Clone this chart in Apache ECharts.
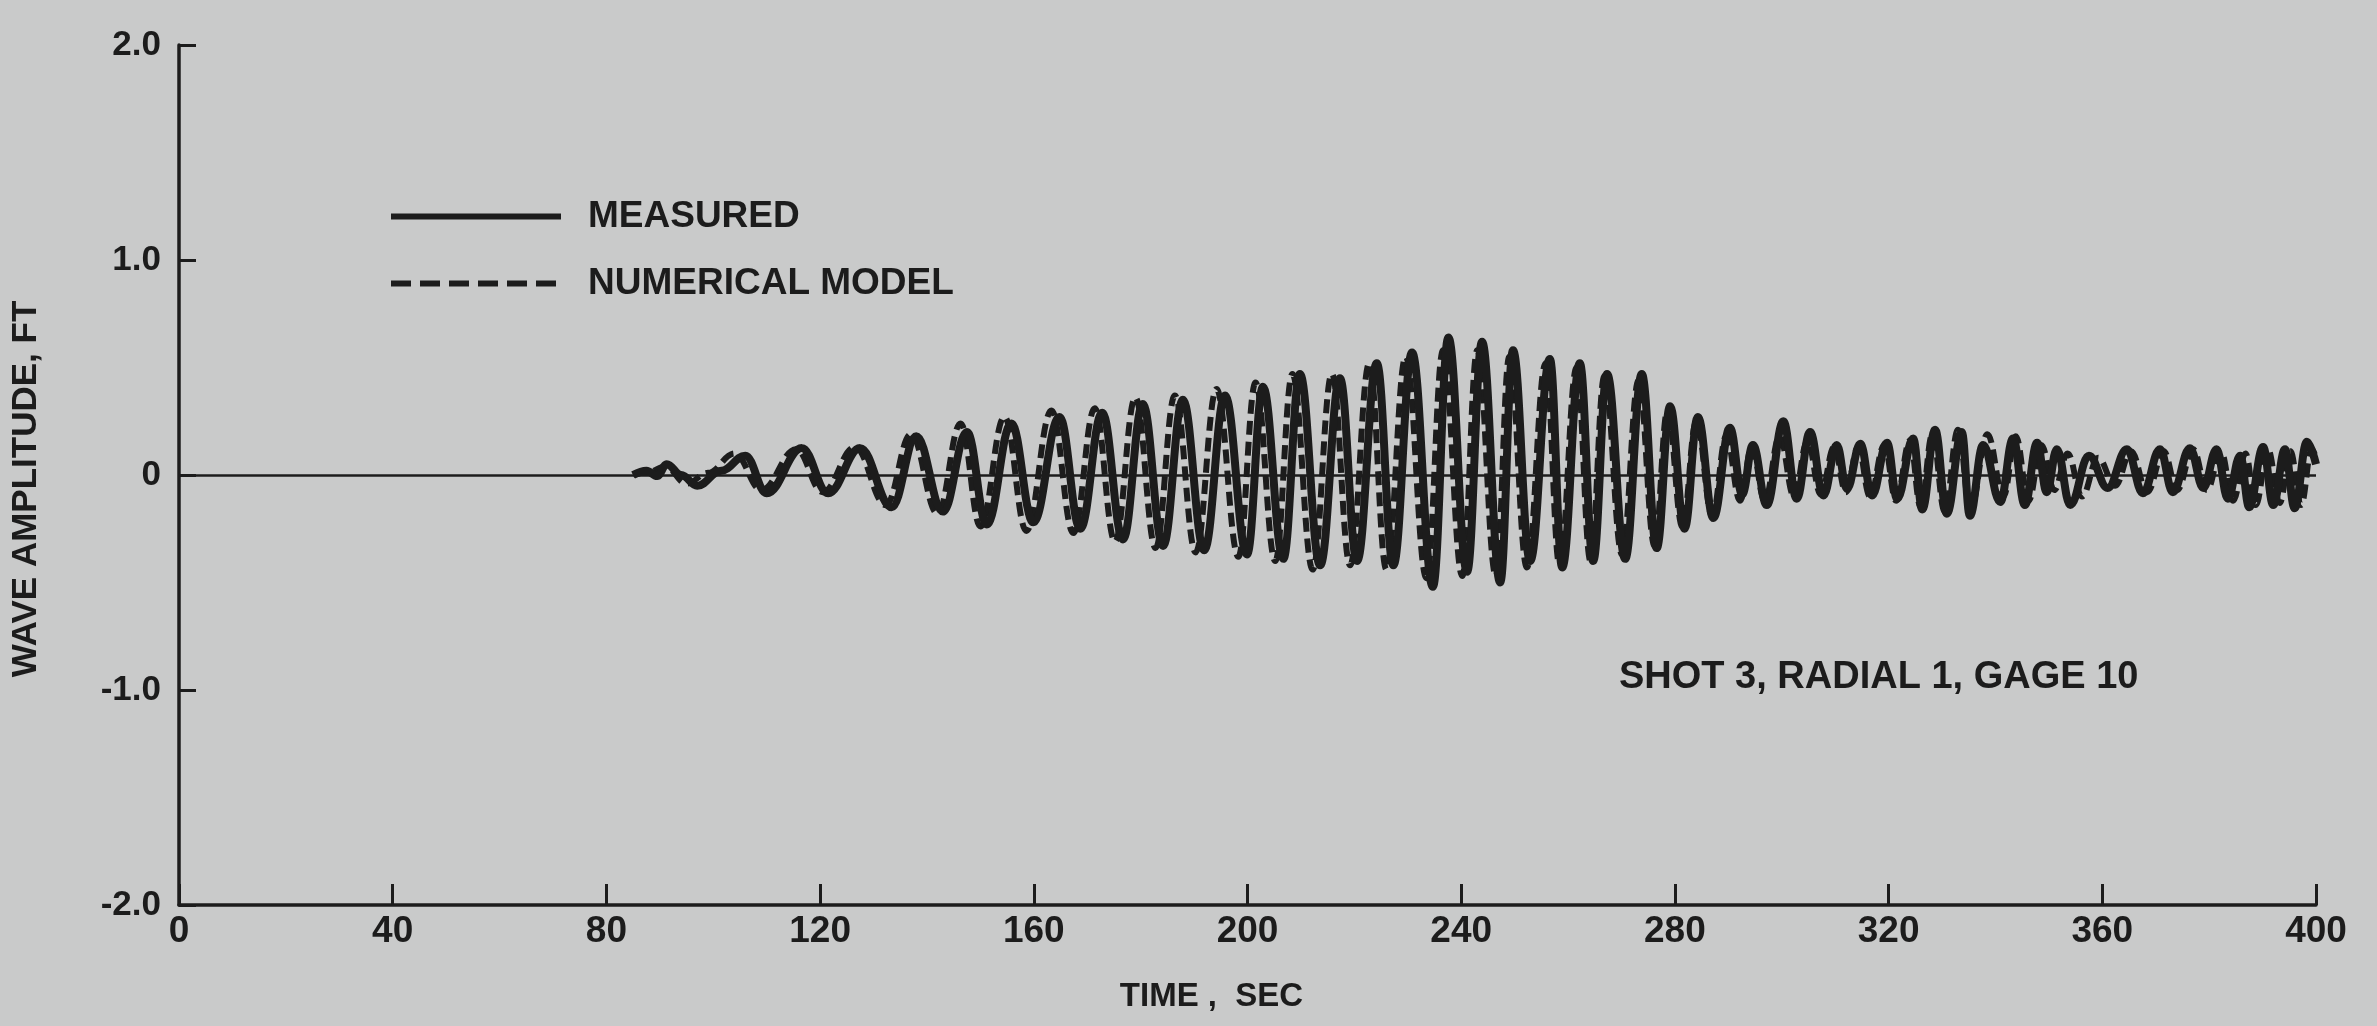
<!DOCTYPE html>
<html>
<head>
<meta charset="utf-8">
<title>Shot 3, Radial 1, Gage 10</title>
<script src="https://cdn.jsdelivr.net/npm/echarts@6/dist/echarts.min.js"></script>
<style>
  html, body { margin: 0; padding: 0; background: #c9caca; }
  #chart { width: 2377px; height: 1026px; }
</style>
</head>
<body>
<div id="chart"></div>
<script>
// wave record (peaks and troughs), time in sec, amplitude in ft
var measuredTime = [85, 87.5, 89.5, 91.3, 94, 97, 101.5, 106, 110, 116.6, 121.5, 127.5, 133.4, 138, 143, 147.5, 151.2,
  155.8, 159.9, 164.8, 168.7, 172.8, 176.7, 180.4, 184.2, 187.9, 191.9, 195.8, 199.9, 202.9, 206.7, 209.8, 213.6,
  217.3, 220.5, 224.2, 227.3, 230.8, 234.7, 237.6, 241.1, 243.9, 247.3, 249.7, 252.9, 256.6, 258.9, 262.2, 264.7,
  267.3, 270.7, 273.8, 276.6, 279.1, 281.8, 284.3, 287.2, 290.3, 292.6, 294.6, 297.2, 300.3, 302.8, 305.3, 307.8,
  310.3, 312.2, 314.7, 316.9, 319.7, 321.6, 324.6, 326.3, 328.7, 330.9, 333.7, 335.2, 337.7, 340.9, 343.3, 345.5,
  347.8, 349.6, 351.5, 354, 357.5, 361, 364.6, 367.6, 370.8, 373.2, 376.4, 378.9, 381.4, 383.5, 385.8, 387.5,
  390.1, 392, 394.2, 396, 398.3, 400];
var measuredAmp = [0, 0.02, -0.005, 0.05, 0, -0.05, 0.02, 0.09, -0.085, 0.125, -0.085, 0.125, -0.15, 0.18, -0.17, 0.2, -0.23,
  0.24, -0.22, 0.27, -0.25, 0.29, -0.3, 0.33, -0.33, 0.35, -0.35, 0.37, -0.37, 0.41, -0.39, 0.47, -0.42,
  0.45, -0.4, 0.52, -0.42, 0.57, -0.52, 0.64, -0.45, 0.62, -0.5, 0.58, -0.4, 0.54, -0.43, 0.52, -0.4,
  0.47, -0.39, 0.47, -0.34, 0.32, -0.25, 0.27, -0.2, 0.22, -0.09, 0.14, -0.14, 0.25, -0.11, 0.2, -0.095,
  0.14, -0.065, 0.145, -0.095, 0.15, -0.11, 0.17, -0.16, 0.21, -0.18, 0.2, -0.19, 0.14, -0.125, 0.17, -0.14,
  0.15, -0.08, 0.12, -0.14, 0.09, -0.06, 0.12, -0.085, 0.12, -0.08, 0.125, -0.06, 0.12, -0.11, 0.09, -0.15,
  0.13, -0.14, 0.12, -0.155, 0.155, 0.05];

var modelTime = [85, 88, 91, 95, 99, 104, 109, 115.5, 120.5, 126.5, 132.3, 137, 142, 146.3, 150, 154.5, 158.6,
  163.3, 167.4, 171.4, 175.2, 179, 182.8, 186.4, 190.3, 194.2, 198.3, 201.5, 205.2, 208.4, 212.2, 215.8, 219.2,
  222.8, 226, 229.6, 233.5, 236.6, 240.2, 243, 246.5, 249, 252.3, 255.8, 258.4, 261.6, 264.2, 266.8, 270.1,
  273.2, 276.2, 278.6, 281.4, 284, 287, 289.6, 292.2, 294.4, 296.8, 299.6, 302.3, 304.8, 307.3, 309.8, 312,
  314.3, 316.5, 319.2, 321.4, 324, 326, 328.2, 330.5, 333, 335.3, 338.5, 341.5, 343.8, 346.2, 348.6, 351,
  353.5, 356.2, 359.2, 362.4, 365.4, 368.4, 371.5, 374, 377, 379.6, 382.2, 384.5, 386.8, 388.7, 391, 393.2,
  395.2, 397.2, 399.2, 400];
var modelAmp = [0, 0.015, 0.04, -0.04, 0.01, 0.1, -0.07, 0.12, -0.08, 0.13, -0.14, 0.19, -0.18, 0.24, -0.24, 0.27, -0.26,
  0.3, -0.27, 0.31, -0.31, 0.36, -0.34, 0.37, -0.36, 0.4, -0.38, 0.43, -0.4, 0.47, -0.44, 0.47, -0.42,
  0.52, -0.44, 0.55, -0.48, 0.58, -0.47, 0.58, -0.47, 0.55, -0.43, 0.52, -0.42, 0.5, -0.4, 0.46, -0.37,
  0.44, -0.33, 0.3, -0.24, 0.25, -0.19, 0.18, -0.12, 0.13, -0.12, 0.18, -0.1, 0.16, -0.09, 0.13, -0.08,
  0.13, -0.1, 0.14, -0.12, 0.16, -0.15, 0.19, -0.17, 0.21, -0.16, 0.19, -0.1, 0.18, -0.12, 0.14, -0.07,
  0.1, -0.1, 0.08, -0.05, 0.11, -0.08, 0.11, -0.07, 0.12, -0.07, 0.11, -0.12, 0.1, -0.14, 0.12, -0.13,
  0.11, -0.14, 0.12, 0.08];

var yTickValues = [-2, -1, 0, 1, 2];
var yTickLabels = ['-2.0', '-1.0', '0', '1.0', '2.0'];

var ink = '#1c1c1c';
var font = 'Liberation Sans, Arial, sans-serif';
var dash = [14, 7];

function pairs(ts, vs) {
  return ts.map(function (t, i) { return [t, vs[i]]; });
}

var chart = echarts.init(document.getElementById('chart'));
var option = {
  backgroundColor: '#c9caca',
  animation: false,
  textStyle: { fontFamily: font, color: ink },
  title: {
    text: 'SHOT 3, RADIAL 1, GAGE 10',
    left: 1619,
    top: 659,
    padding: 0,
    textStyle: { fontFamily: font, fontSize: 38, fontWeight: 'bold', color: ink }
  },
  legend: {
    orient: 'vertical',
    left: 383,
    top: 193,
    itemWidth: 170,
    itemHeight: 30,
    itemGap: 30,
    selectedMode: false,
    itemStyle: { opacity: 0 },
    textStyle: { fontFamily: font, fontSize: 37, fontWeight: 'bold', color: ink, lineHeight: 30, padding: [0, 0, 0, 22] },
    data: [
      { name: 'MEASURED', lineStyle: { color: ink, width: 6, type: 'solid' } },
      { name: 'NUMERICAL MODEL', lineStyle: { color: ink, width: 6, type: [20, 9] } }
    ]
  },
  grid: { left: 179, right: 61, top: 45, bottom: 121 },
  xAxis: {
    type: 'value',
    min: 0,
    max: 400,
    interval: 40,
    name: 'TIME ,  SEC',
    nameLocation: 'middle',
    nameGap: 75,
    nameTextStyle: { fontFamily: font, fontSize: 33, fontWeight: 'bold', color: ink, padding: [0, 72, 0, 0] },
    axisLine: { onZero: false, lineStyle: { color: ink, width: 3.5 } },
    axisTick: { inside: true, length: 21, lineStyle: { color: ink, width: 3 } },
    axisLabel: { margin: 8, fontSize: 37, fontWeight: 'bold', color: ink, fontFamily: font },
    splitLine: { show: false }
  },
  yAxis: {
    type: 'value',
    min: -2,
    max: 2,
    interval: 1,
    name: 'WAVE AMPLITUDE, FT',
    nameLocation: 'middle',
    nameGap: 135,
    nameTextStyle: { fontFamily: font, fontSize: 35, fontWeight: 'bold', color: ink, padding: [0, 28, 0, 0] },
    axisLine: { show: true, onZero: false, lineStyle: { color: ink, width: 3.5 } },
    axisTick: { show: true, inside: true, length: 17, lineStyle: { color: ink, width: 3 } },
    axisLabel: {
      margin: 18, fontSize: 35, fontWeight: 'bold', color: ink, fontFamily: font,
      formatter: function (v) { return yTickLabels[yTickValues.indexOf(v)]; }
    },
    splitLine: { show: false }
  },
  series: [
    {
      name: 'NUMERICAL MODEL',
      type: 'line',
      data: pairs(modelTime, modelAmp),
      showSymbol: false,
      symbol: 'none',
      smooth: 0.4,
      smoothMonotone: 'x',
      z: 2,
      lineStyle: { color: ink, width: 6, type: dash },
      itemStyle: { color: ink }
    },
    {
      name: 'MEASURED',
      type: 'line',
      data: pairs(measuredTime, measuredAmp),
      showSymbol: false,
      symbol: 'none',
      smooth: 0.4,
      smoothMonotone: 'x',
      z: 3,
      lineStyle: { color: ink, width: 8 },
      itemStyle: { color: ink },
      markLine: {
        silent: true,
        symbol: 'none',
        label: { show: false },
        lineStyle: { color: ink, width: 2.5, type: 'solid' },
        data: [{ yAxis: 0 }]
      }
    }
  ]
};
chart.setOption(option);
</script>
</body>
</html>
